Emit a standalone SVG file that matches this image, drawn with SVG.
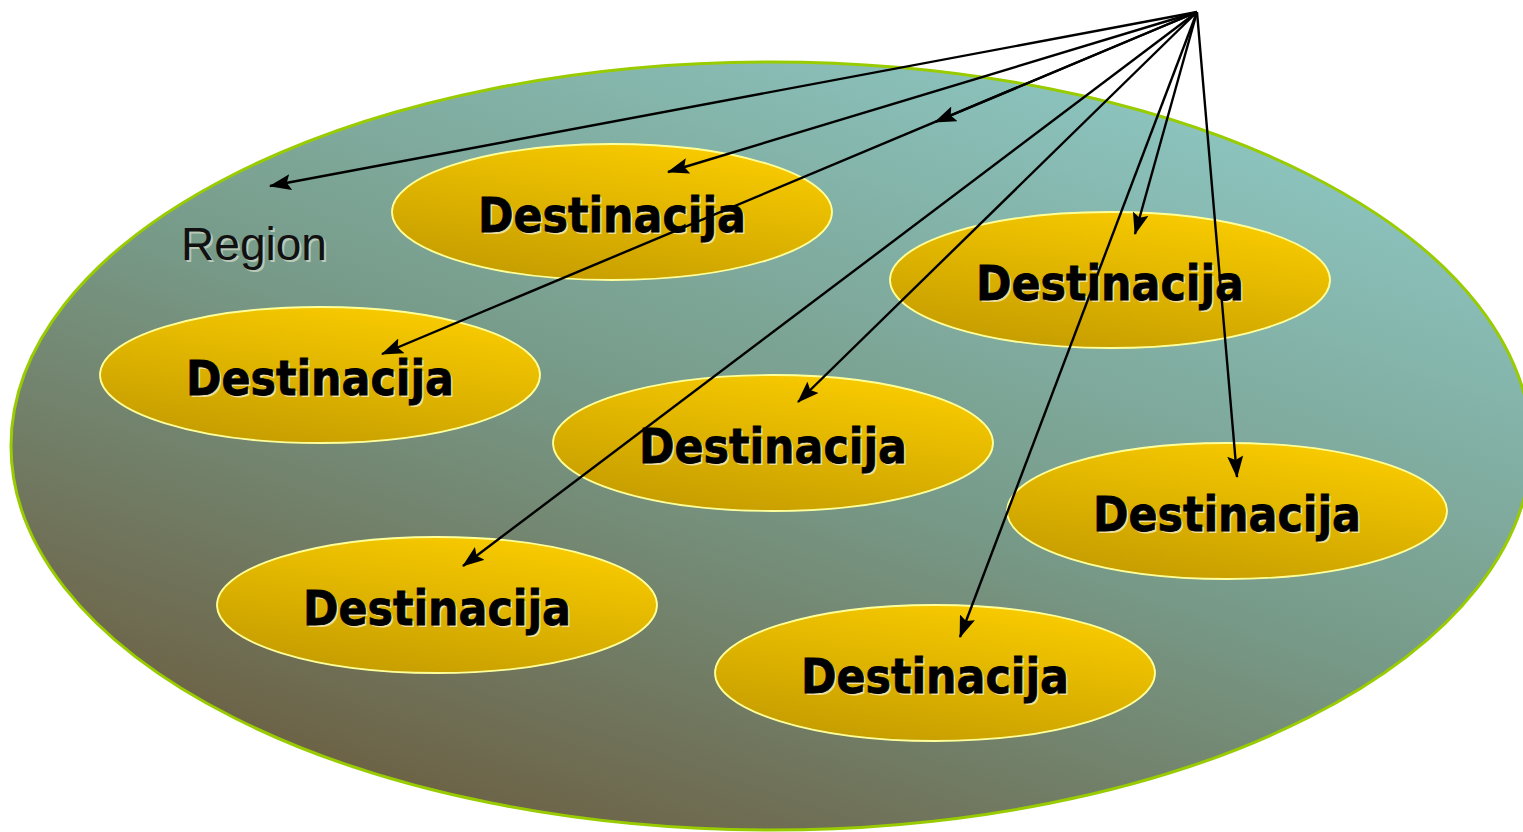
<svg xmlns="http://www.w3.org/2000/svg" width="1523" height="832" viewBox="0 0 1523 832">
<defs>
<linearGradient id="gRegion" x1="0.2" y1="1" x2="0.85" y2="0.05">
<stop offset="0" stop-color="#6B5A3C"/>
<stop offset="0.5" stop-color="#779A88"/>
<stop offset="1" stop-color="#8EC8C4"/>
</linearGradient>
<linearGradient id="gDest" x1="0.25" y1="1" x2="0.75" y2="0">
<stop offset="0" stop-color="#C49C00"/>
<stop offset="1" stop-color="#FACC00"/>
</linearGradient>
<marker id="ah" viewBox="0 0 22 16" refX="21" refY="8" markerWidth="22" markerHeight="16" markerUnits="userSpaceOnUse" orient="auto">
<path d="M0,0 L22,8 L0,16 L4,8 z" fill="#000"/>
</marker>
</defs>
<style>
.dest{fill:url(#gDest);stroke:#FFFF99;stroke-width:1.8}
.lbl{font-family:"DejaVu Sans","Liberation Sans",sans-serif;font-weight:bold;font-size:48px;text-anchor:middle}
.sh{fill:#F4ECC8;opacity:0.8}
.tx{fill:#000;stroke:#000;stroke-width:0.8}
.conn line{stroke:#000;stroke-width:2.4;marker-end:url(#ah)}
</style>
<g id="region">
<ellipse cx="771" cy="446" rx="760" ry="384" fill="url(#gRegion)" stroke="#99CC00" stroke-width="3"/>
<text x="256" y="262" font-family="'Liberation Sans',Arial,sans-serif" font-size="46" fill="#E8E8D8" opacity="0.6" text-anchor="middle">Region</text>
<text x="254" y="260" font-family="'Liberation Sans',Arial,sans-serif" font-size="46" fill="#111" text-anchor="middle">Region</text>
</g>
<g id="dest1">
<ellipse class="dest" cx="612" cy="212" rx="220" ry="68"/>
<text class="lbl sh" x="614" y="234" textLength="268" lengthAdjust="spacingAndGlyphs">Destinacija</text>
<text class="lbl tx" x="612" y="232" textLength="268" lengthAdjust="spacingAndGlyphs">Destinacija</text>
</g>
<g id="dest2">
<ellipse class="dest" cx="1110" cy="280" rx="220" ry="68"/>
<text class="lbl sh" x="1112" y="302" textLength="268" lengthAdjust="spacingAndGlyphs">Destinacija</text>
<text class="lbl tx" x="1110" y="300" textLength="268" lengthAdjust="spacingAndGlyphs">Destinacija</text>
</g>
<g id="dest3">
<ellipse class="dest" cx="320" cy="375" rx="220" ry="68"/>
<text class="lbl sh" x="322" y="397" textLength="268" lengthAdjust="spacingAndGlyphs">Destinacija</text>
<text class="lbl tx" x="320" y="395" textLength="268" lengthAdjust="spacingAndGlyphs">Destinacija</text>
</g>
<g id="dest4">
<ellipse class="dest" cx="773" cy="443" rx="220" ry="68"/>
<text class="lbl sh" x="775" y="465" textLength="268" lengthAdjust="spacingAndGlyphs">Destinacija</text>
<text class="lbl tx" x="773" y="463" textLength="268" lengthAdjust="spacingAndGlyphs">Destinacija</text>
</g>
<g id="dest5">
<ellipse class="dest" cx="1227" cy="511" rx="220" ry="68"/>
<text class="lbl sh" x="1229" y="533" textLength="268" lengthAdjust="spacingAndGlyphs">Destinacija</text>
<text class="lbl tx" x="1227" y="531" textLength="268" lengthAdjust="spacingAndGlyphs">Destinacija</text>
</g>
<g id="dest6">
<ellipse class="dest" cx="437" cy="605" rx="220" ry="68"/>
<text class="lbl sh" x="439" y="627" textLength="268" lengthAdjust="spacingAndGlyphs">Destinacija</text>
<text class="lbl tx" x="437" y="625" textLength="268" lengthAdjust="spacingAndGlyphs">Destinacija</text>
</g>
<g id="dest7">
<ellipse class="dest" cx="935" cy="673" rx="220" ry="68"/>
<text class="lbl sh" x="937" y="695" textLength="268" lengthAdjust="spacingAndGlyphs">Destinacija</text>
<text class="lbl tx" x="935" y="693" textLength="268" lengthAdjust="spacingAndGlyphs">Destinacija</text>
</g>
<g id="connectors" class="conn">
<line x1="1197" y1="12" x2="270" y2="186"/>
<line x1="1197" y1="12" x2="668" y2="172"/>
<line x1="1197" y1="12" x2="935" y2="122"/>
<line x1="1197" y1="12" x2="382" y2="354"/>
<line x1="1197" y1="12" x2="463" y2="566"/>
<line x1="1197" y1="12" x2="798" y2="402"/>
<line x1="1197" y1="12" x2="960" y2="637"/>
<line x1="1197" y1="12" x2="1135" y2="234"/>
<line x1="1197" y1="12" x2="1237" y2="477"/>
</g>
</svg>
